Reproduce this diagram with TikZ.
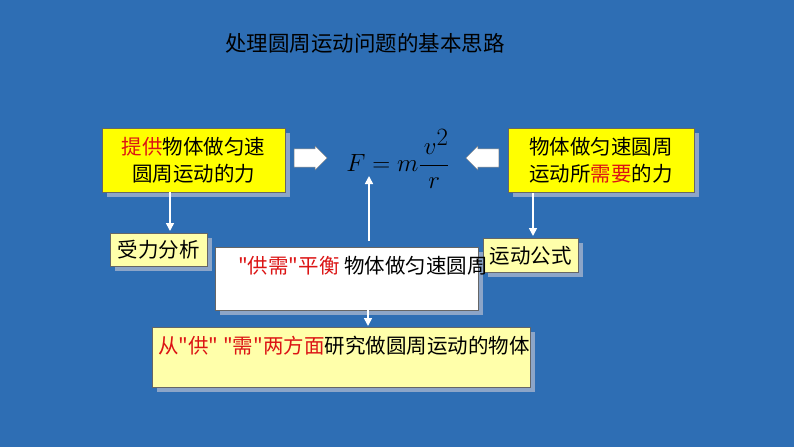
\documentclass[tikz,border=0pt]{standalone}
\usepackage{fontspec}
\setmainfont{Liberation Serif}
\newfontfamily\cjk{Noto Sans CJK SC}
\usetikzlibrary{shapes.arrows,arrows.meta}
\definecolor{bg}{RGB}{46,110,180}
\definecolor{sh}{RGB}{140,165,200}
\definecolor{yel}{RGB}{255,255,0}
\definecolor{pyel}{RGB}{255,255,170}
\definecolor{rd}{RGB}{220,20,20}
\tikzset{
 box/.style={inner sep=0pt,font=\cjk\fontsize{20.5}{27}\selectfont,align=center},
 shad/.style={fill=sh},
 darr/.style={white,line width=1.6pt,-{Triangle[length=8pt,width=8pt,fill=white]}},
 barr/.style={single arrow,draw=black!50,fill=white,minimum height=33pt,minimum width=24pt,single arrow head extend=1pt,inner sep=3pt}
}
\newcommand{\R}[1]{\textcolor{rd}{#1}}
\begin{document}
\begin{tikzpicture}[x=1pt,y=-1pt]
\fill[bg] (0,0) rectangle (794,447);
\useasboundingbox (0,0) rectangle (794,447);
\node[font=\cjk\fontsize{21.5}{26}\selectfont] (title) at (365,43) {处理圆周运动问题的基本思路};
% shadows
\fill[shad] (107,133) rectangle (290,197);
\fill[shad] (513,133) rectangle (699,197);
\fill[shad] (115,238) rectangle (212,271);
\fill[shad] (488,243) rectangle (583,277);
\fill[shad] (220,252) rectangle (483,315);
\fill[shad] (157,332) rectangle (535,392);
% boxes
\filldraw[fill=yel,draw=black!60] (102,128) rectangle (285,192);
\node[box] (b1) at (193.5,160) {\R{提供}物体做匀速\\圆周运动的力};
\filldraw[fill=yel,draw=black!60] (508,128) rectangle (694,192);
\node[box] (b2) at (601,160) {物体做匀速圆周\\运动所\R{需要}的力};
\filldraw[fill=pyel,draw=black!60] (110,233) rectangle (207,266);
\node[box] (b3) at (158.5,250) {受力分析};
\filldraw[fill=pyel,draw=black!60] (483,238) rectangle (578,272);
\node[box] (b4) at (530.5,256) {运动公式};
\filldraw[fill=white,draw=black!60] (215,247) rectangle (478,310);
\node[box,anchor=west] (b5) at (238,266) {\R{"供需"平衡} 物体做匀速圆周};
\filldraw[fill=pyel,draw=black!60] (152,327) rectangle (530,387);
\node[box,anchor=west] (b6) at (158,346) {\R{从"供" "需"两方面}研究做圆周运动的物体};
% formula
\node[font=\fontsize{40}{44}\selectfont] (f) at (398,159) {$\displaystyle F = m\frac{\,v^2}{\;r\;}$};
% block arrows
\node[barr] (a1) at (306,158) {};
\node[barr,shape border rotate=180] (a2) at (487,158) {};
% thin arrows
\coordinate (c1) at (170,192); \coordinate (d1) at (170,231);
\draw[darr] (c1) -- (d1);
\coordinate (c2) at (533,193); \coordinate (d2) at (533,236);
\draw[darr] (c2) -- (d2);
\coordinate (c3) at (369,241); \coordinate (d3) at (369,176);
\draw[darr] (c3) -- (d3);
\coordinate (c4) at (368,284); \coordinate (d4) at (368,326);
\draw[darr] (c4) -- (d4);
\end{tikzpicture}
\end{document}
